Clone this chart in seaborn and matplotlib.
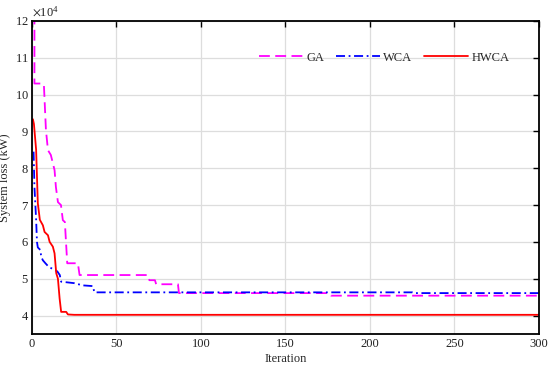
import numpy as np
import pandas as pd
import seaborn as sns
from matplotlib import pyplot as plt
from matplotlib.ticker import ScalarFormatter

# convergence curves (iteration, loss in kW)
ga_iter = [1.5, 1.5, 6.5, 7.1, 8.3, 9.5, 11.2, 13.4, 14.2, 15.4, 17.2, 18.3, 19.5, 20.9,
           27.2, 28.2, 68.6, 69.5, 72.8, 73.5, 77.5, 86.4, 87.0, 176, 177, 300]
ga_loss = [122000, 103000, 103000, 102600, 90400, 84900, 83600, 79500, 74900, 70800, 70000,
           65900, 65400, 54200, 54200, 51000, 51000, 49600, 49600, 48500, 48500, 48500,
           46100, 46100, 45400, 45400]

wca_iter = [1, 1.5, 2.5, 3, 3.5, 5, 5.5, 6.5, 8, 10, 13, 15, 16.5, 17.3, 25, 30, 36,
            37, 225, 226, 300]
wca_loss = [84500, 75000, 66000, 60000, 58500, 57800, 56000, 55000, 54200, 53200, 52500,
            52000, 51000, 49200, 48800, 48200, 48000, 46300, 46300, 46100, 46100]

hwca_iter = [0.6, 1.2, 2.5, 3.5, 4.7, 6.5, 7.5, 9.5, 10.5, 12.4, 13.4, 14.4, 15.4, 16.4,
             17.3, 20.3, 21.3, 25, 300]
hwca_loss = [93300, 92000, 85000, 70500, 66000, 64500, 62700, 61800, 60000, 58700, 56900,
             51500, 50000, 44600, 41000, 41000, 40300, 40200, 40200]

algorithms = ["GA", "WCA", "HWCA"]
colors = {"GA": "#ff00ff", "WCA": "#0000ff", "HWCA": "#ff0000"}
dashes = {"GA": (6, 3), "WCA": (5, 2, 1, 2), "HWCA": ""}

df = pd.concat([
    pd.DataFrame({"Iteration": ga_iter, "loss": ga_loss, "alg": "GA"}),
    pd.DataFrame({"Iteration": wca_iter, "loss": wca_loss, "alg": "WCA"}),
    pd.DataFrame({"Iteration": hwca_iter, "loss": hwca_loss, "alg": "HWCA"}),
], ignore_index=True)

sns.set_style("whitegrid")
plt.rcParams["font.family"] = ["Liberation Serif", "DejaVu Serif"]
plt.rcParams["mathtext.fontset"] = "stix"

fig = plt.figure(figsize=(5.5, 3.67), dpi=100)
ax = fig.add_axes([0.058, 0.090, 0.922, 0.853])

sns.lineplot(data=df, x="Iteration", y="loss", hue="alg", style="alg",
             hue_order=algorithms, style_order=algorithms,
             palette=colors, dashes=dashes, estimator=None, sort=False,
             linewidth=1.3, ax=ax)

ax.set_xlim(0, 300)
ax.set_ylim(35000, 120000)
ax.set_xticks(np.arange(0, 301, 50))
ax.set_yticks(np.arange(40000, 120001, 10000))
fmt = ScalarFormatter(useMathText=True)
fmt.set_powerlimits((4, 4))
ax.yaxis.set_major_formatter(fmt)
ax.yaxis.get_offset_text().set_fontsize(9)

ax.grid(True, color="#dddddd", linewidth=0.9)
for s in ax.spines.values():
    s.set_color("black")
    s.set_linewidth(1.3)
ax.tick_params(direction="in", length=4, width=1, top=True, right=True,
               labelsize=9, colors="black")
ax.tick_params(axis="y", pad=2)
ax.tick_params(axis="x", pad=3)
ax.tick_params(axis="both", labelcolor="#222222")

ax.set_xlabel("Iteration", fontsize=9, labelpad=2)
ax.set_ylabel("System loss (kW)", fontsize=9)
ax.yaxis.set_label_coords(-0.042, 0.5)

handles, labels = ax.get_legend_handles_labels()
keep = [(h, l) for h, l in zip(handles, labels) if l in algorithms]
ax.legend([h for h, _ in keep], [l for _, l in keep], ncol=3, frameon=False,
          loc="center", bbox_to_anchor=(0.695, 0.882), fontsize=9,
          handlelength=3.5, handletextpad=0.3, columnspacing=0.9)

plt.savefig("out.png", dpi=100)
